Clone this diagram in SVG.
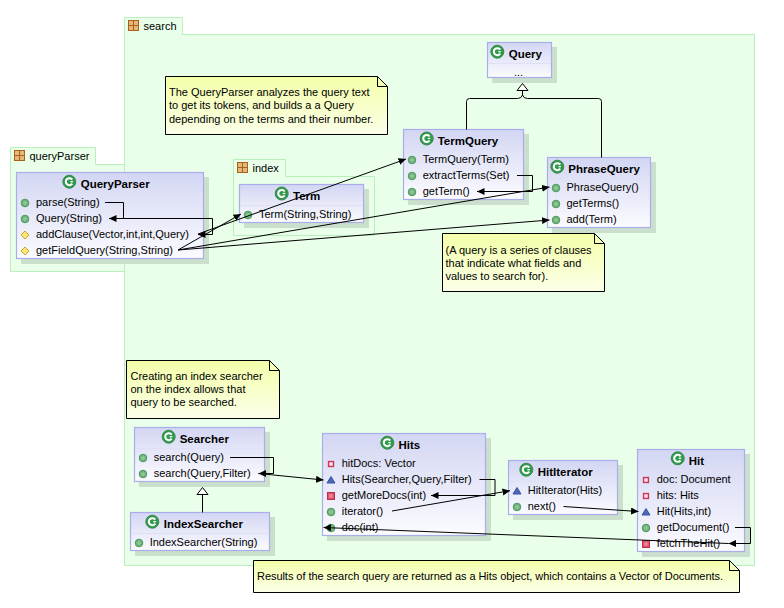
<svg xmlns="http://www.w3.org/2000/svg" xmlns:xlink="http://www.w3.org/1999/xlink" width="784" height="608" viewBox="0 0 784 608">
<style>
text{font-family:"Liberation Sans",Arial,sans-serif;font-size:11px;fill:#000}
.t{font-weight:bold;font-size:11.5px}
.pkg{fill:#e9ffe9;stroke:#b9f0b9;stroke-width:1}
.box{fill:url(#cg);stroke:#a9ade9;stroke-width:1.2}
.sh{fill:#cbdfcd}
.sep{stroke:#dfe0f6;stroke-width:1}
.note{fill:url(#ng);stroke:#000;stroke-width:1}
.c{fill:none;stroke:#000;stroke-width:1}
</style>
<defs>
<linearGradient id="cg" x1="0" y1="0" x2="0" y2="1"><stop offset="0" stop-color="#d3d6f3"/><stop offset="1" stop-color="#fbfbff"/></linearGradient>
<linearGradient id="ng" x1="0" y1="0" x2="0" y2="1"><stop offset="0" stop-color="#f4ffa9"/><stop offset="1" stop-color="#fbffe8"/></linearGradient>
<radialGradient id="gg"><stop offset="0" stop-color="#9bd09b"/><stop offset="1" stop-color="#5ea86e"/></radialGradient>
<marker id="a" markerWidth="9" markerHeight="8" refX="7.500" refY="3.500" orient="auto" markerUnits="userSpaceOnUse"><path d="M0,0L7.500,3.500L0,7Z" fill="#000"/></marker>
<g id="pi"><rect x="0.5" y="0.5" width="10" height="10" fill="#e3b878" stroke="#a8601c"/><path d="M5.5,0V11M0,5.5H11" stroke="#a8601c"/></g>
<g id="ci"><circle r="6.500" fill="#2f9a4c" stroke="#3a8a4c"/><path d="M2.900,-2A3.500,3.500 0 1 0 2.900,2" fill="none" stroke="#fff" stroke-width="2.100"/><path d="M1,0H3.600" stroke="#fff" stroke-width="1.300"/></g>
<circle id="m" r="3.800" fill="url(#gg)" stroke="#4f9a63" stroke-width="1"/>
<path id="d" d="M0,-4L4,0L0,4L-4,0Z" fill="#fce66c" stroke="#c8a43c"/>
<path id="tr" d="M0,-3.500L4,3H-4Z" fill="#4a68b8" stroke="#3d549c"/>
<g id="f"><rect x="-2.500" y="-2.500" width="5" height="5" fill="#f6c6cc" stroke="#d0345c" stroke-width="1.300"/><path d="M-1,0H1M0,-1V1" stroke="#fff"/></g>
<g id="pm"><rect x="-3.500" y="-3.500" width="7" height="7" fill="#e4546c" stroke="#b83050"/><rect x="-1.500" y="-1.500" width="3" height="3" fill="#f08c9c"/></g>
</defs>
<rect width="784" height="608" fill="#fff"/>

<g id="pkg-queryParser">
<path class="pkg" d="M10.500,147.500H95.500V164.500H130V271.500H10.500Z"/>
<use xlink:href="#pi" x="14" y="150"/><text x="29.500" y="160">queryParser</text>
</g>
<g id="pkg-search">
<path class="pkg" d="M124.500,17.500H182.500V34.500H754.500V565.500H124.500Z"/>
<use xlink:href="#pi" x="128" y="20"/><text x="143.500" y="30">search</text>
</g>
<g id="pkg-index">
<path class="pkg" d="M233.500,159.500H285.500V176.500H374.500V235.500H233.500Z"/>
<use xlink:href="#pi" x="237" y="162"/><text x="252.500" y="172">index</text>
</g>

<g id="note1"><path class="note" d="M165.500,76.500H377.500L387.500,86.500V134.500H165.500Z"/><path class="c" d="M377.500,76.500V86.500H387.500"/>
<text x="169" y="96">The QueryParser analyzes the query text</text><text x="169" y="109">to get its tokens, and builds a a Query</text><text x="169" y="122.500">depending on the terms and their number.</text></g>
<g id="note2"><path class="note" d="M442.500,233.500H594.500L604.500,243.500V291.500H442.500Z"/><path class="c" d="M594.500,233.500V243.500H604.500"/>
<text x="445.500" y="254">(A query is a series of clauses</text><text x="445.500" y="267">that indicate what fields and</text><text x="445.500" y="280">values to search for).</text></g>
<g id="note3"><path class="note" d="M126.500,360.500H269.500L279.500,370.500V418.500H126.500Z"/><path class="c" d="M269.500,360.500V370.500H279.500"/>
<text x="130.500" y="380">Creating an index searcher</text><text x="130.500" y="393">on the index allows that</text><text x="130.500" y="406">query to be searched.</text></g>
<g id="note4"><path class="note" d="M253.500,560.500H729.500L739.500,570.500V592.500H253.500Z"/><path class="c" d="M729.500,560.500V570.500H739.500"/>
<text x="257" y="580" textLength="466" lengthAdjust="spacing">Results of the search query are returned as a Hits object, which contains a Vector of Documents.</text></g>

<g id="QueryParser"><rect class="sh" x="21" y="177" width="188" height="87"/><rect class="box" x="16.500" y="172.500" width="187" height="86"/><path class="sep" d="M17,193.500H203"/>
<use xlink:href="#ci" x="69.300" y="181.700"/><text class="t" x="80.700" y="188">QueryParser</text>
<use xlink:href="#m" x="25" y="203"/><text x="36" y="206">parse(String)</text>
<use xlink:href="#m" x="25" y="219"/><text x="36" y="222">Query(String)</text>
<use xlink:href="#d" x="25" y="235"/><text x="36" y="238">addClause(Vector,int,int,Query)</text>
<use xlink:href="#d" x="25" y="251"/><text x="36" y="254">getFieldQuery(String,String)</text></g>

<g id="Term"><rect class="sh" x="244" y="189" width="125" height="39"/><rect class="box" x="239.500" y="184.500" width="124" height="38"/><path class="sep" d="M240,205.500H363"/>
<use xlink:href="#ci" x="281.700" y="193.500"/><text class="t" x="293" y="200">Term</text>
<use xlink:href="#m" x="248" y="215"/><text x="259" y="218">Term(String,String)</text></g>

<g id="Query"><rect class="sh" x="492" y="47" width="65" height="36"/><rect class="box" x="487.500" y="42.500" width="64" height="35"/><path class="sep" d="M488,63.500H551"/>
<use xlink:href="#ci" x="497.300" y="51.700"/><text class="t" x="508.700" y="58.300">Query</text>
<text x="518.500" y="76" text-anchor="middle">...</text></g>

<g id="TermQuery"><rect class="sh" x="408" y="134" width="121" height="71"/><rect class="box" x="403.500" y="129.500" width="120" height="70"/><path class="sep" d="M404,150.500H523"/>
<use xlink:href="#ci" x="426.700" y="138.500"/><text class="t" x="437.700" y="145">TermQuery</text>
<use xlink:href="#m" x="412" y="160"/><text x="422.700" y="163">TermQuery(Term)</text>
<use xlink:href="#m" x="412" y="176"/><text x="422.700" y="179">extractTerms(Set)</text>
<use xlink:href="#m" x="412" y="192"/><text x="422.700" y="195">getTerm()</text></g>

<g id="PhraseQuery"><rect class="sh" x="552" y="162" width="104" height="71"/><rect class="box" x="547.500" y="157.500" width="103" height="70"/><path class="sep" d="M548,178.500H650"/>
<use xlink:href="#ci" x="557.300" y="166.700"/><text class="t" x="568.300" y="173">PhraseQuery</text>
<use xlink:href="#m" x="556" y="188"/><text x="566.500" y="191">PhraseQuery()</text>
<use xlink:href="#m" x="556" y="204"/><text x="566.500" y="207">getTerms()</text>
<use xlink:href="#m" x="556" y="220"/><text x="566.500" y="223">add(Term)</text></g>

<g id="Searcher"><rect class="sh" x="139" y="432" width="131" height="55"/><rect class="box" x="134.500" y="427.500" width="130" height="54"/><path class="sep" d="M135,448.500H264"/>
<use xlink:href="#ci" x="168.700" y="436.700"/><text class="t" x="179.700" y="443">Searcher</text>
<use xlink:href="#m" x="143" y="458"/><text x="153.700" y="461">search(Query)</text>
<use xlink:href="#m" x="143" y="474"/><text x="153.700" y="477">search(Query,Filter)</text></g>

<g id="IndexSearcher"><rect class="sh" x="135" y="517" width="140" height="39"/><rect class="box" x="130.500" y="512.500" width="139" height="38"/><path class="sep" d="M131,533.500H269"/>
<use xlink:href="#ci" x="152.300" y="521.700"/><text class="t" x="163.700" y="528">IndexSearcher</text>
<use xlink:href="#m" x="139" y="543"/><text x="149.700" y="546">IndexSearcher(String)</text></g>

<g id="Hits"><rect class="sh" x="327" y="438" width="164" height="103"/><rect class="box" x="322.500" y="433.500" width="163" height="102"/><path class="sep" d="M323,454.500H485"/>
<use xlink:href="#ci" x="387.300" y="442.700"/><text class="t" x="398.500" y="449">Hits</text>
<use xlink:href="#f" x="331" y="464"/><text x="341.700" y="467">hitDocs: Vector</text>
<use xlink:href="#tr" x="331" y="480"/><text x="341.700" y="483">Hits(Searcher,Query,Filter)</text>
<use xlink:href="#pm" x="331" y="496"/><text x="341.700" y="499">getMoreDocs(int)</text>
<use xlink:href="#m" x="331" y="512"/><text x="341.700" y="515">iterator()</text>
<use xlink:href="#m" x="331" y="528"/><text x="341.700" y="531">doc(int)</text></g>

<g id="HitIterator"><rect class="sh" x="513" y="465" width="110" height="55"/><rect class="box" x="508.500" y="460.500" width="109" height="54"/><path class="sep" d="M509,481.500H617"/>
<use xlink:href="#ci" x="526.300" y="469.700"/><text class="t" x="537.700" y="476">HitIterator</text>
<use xlink:href="#tr" x="517" y="491"/><text x="527.700" y="494">HitIterator(Hits)</text>
<use xlink:href="#m" x="517" y="507"/><text x="527.700" y="510">next()</text></g>

<g id="Hit"><rect class="sh" x="642" y="454" width="108" height="103"/><rect class="box" x="637.500" y="449.500" width="107" height="102"/><path class="sep" d="M638,470.500H744"/>
<use xlink:href="#ci" x="677.700" y="458.300"/><text class="t" x="688.700" y="465">Hit</text>
<use xlink:href="#f" x="646" y="480"/><text x="656.700" y="483">doc: Document</text>
<use xlink:href="#f" x="646" y="496"/><text x="656.700" y="499">hits: Hits</text>
<use xlink:href="#tr" x="646" y="512"/><text x="656.700" y="515">Hit(Hits,int)</text>
<use xlink:href="#m" x="646" y="528"/><text x="656.700" y="531">getDocument()</text>
<use xlink:href="#pm" x="646" y="544"/><text x="656.700" y="547">fetchTheHit()</text></g>

<g id="connectors">
<path class="c" marker-end="url(#a)" d="M105,202.500H123.500V218.500H109"/>
<path class="c" marker-end="url(#a)" d="M123,218.500H212.500V234.500H198"/>
<path class="c" marker-end="url(#a)" d="M178,250L241,214"/>
<path class="c" marker-end="url(#a)" d="M198,234L406,159"/>
<path class="c" marker-end="url(#a)" d="M178,250L549.500,187"/>
<path class="c" marker-end="url(#a)" d="M178,250L549.500,220"/>
<path class="c" marker-end="url(#a)" d="M517,175.500H532.500V191.500H477"/>
<path class="c" d="M466.500,129.500V101.500Q466.500,98.500 469.500,98.500H517.500Q521.500,98.500 522.500,95Q523.500,98.500 527.500,98.500H598.500Q601.500,98.500 601.500,101.500V157.500M522.500,95V90.500"/>
<path d="M522.500,83.500L528,90.500H517Z" fill="#fff" stroke="#000"/>
<path class="c" marker-end="url(#a)" d="M230,457.500H273.500V473.500H258.500"/>
<path class="c" marker-end="url(#a)" d="M258.500,473.500L323.500,480"/>
<path class="c" d="M202.500,512.500V494.500"/>
<path d="M202.500,487.500L208,494.500H197Z" fill="#fff" stroke="#000"/>
<path class="c" marker-end="url(#a)" d="M479.500,479.500H495V495.500H431"/>
<path class="c" marker-end="url(#a)" d="M392,511L510,490.700"/>
<path class="c" marker-end="url(#a)" d="M563.500,506.500L638.500,511.500"/>
<path class="c" marker-end="url(#a)" d="M735,527.500H750.500V543.500H728.500"/>
<path class="c" marker-end="url(#a)" d="M728.500,543.500L323.500,527.500"/>
</g>
</svg>
